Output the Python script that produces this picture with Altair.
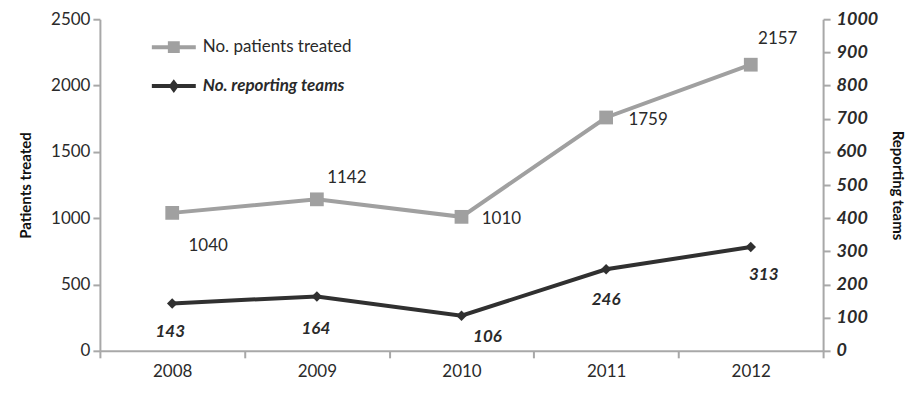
import altair as alt
import pandas as pd

# ---- data ----
years = ["2008", "2009", "2010", "2011", "2012"]
patients = [1040, 1142, 1010, 1759, 2157]
teams = [143, 164, 106, 246, 313]
series_patients = "No. patients treated"
series_teams = "No. reporting teams"
left_ticks = [0, 500, 1000, 1500, 2000, 2500]
right_ticks = [0, 100, 200, 300, 400, 500, 600, 700, 800, 900, 1000]

# ---- label offsets (styling) ----
pat_dx = [36, 30, 40, 42, 27]
pat_dy = [33, -21, 2, 3, -26]
team_dx = [-2, -1, 26, 0, 13]
team_dy = [29, 33, 21, 31, 28]

df = pd.DataFrame({"year": years, "patients": patients, "teams": teams})
df["s1"] = series_patients
df["s2"] = series_teams

FONT = "Lato"
GRAY = "#a0a0a0"
DARK = "#303030"
AXIS = "#a8a8a8"
TXT = "#2a2a2a"

xscale = alt.Scale(type="band", paddingInner=0, paddingOuter=0)
x_enc = alt.X("year:N", bandPosition=0.5, scale=xscale, sort=years,
              axis=alt.Axis(title=None, labelAngle=0, tickBand="extent",
                            domainColor=AXIS, domainWidth=2, tickColor=AXIS,
                            tickWidth=2, tickSize=7, labelPadding=6,
                            labelFont=FONT, labelFontSize=17, labelColor=TXT))

yl_scale = alt.Scale(domain=[0, 2500])
yr_scale = alt.Scale(domain=[0, 1000])
yl_enc = alt.Y("patients:Q", scale=yl_scale,
               axis=alt.Axis(values=left_ticks, format="d", title="Patients treated",
                             grid=False, domainColor=AXIS, domainWidth=2,
                             tickColor=AXIS, tickWidth=2, tickSize=7, labelPadding=3,
                             labelFont=FONT, labelFontSize=17, labelColor=TXT,
                             titleFont=FONT, titleFontSize=15, titleFontWeight="bold",
                             titleColor="#111", titlePadding=17))
yr_enc = alt.Y("teams:Q", scale=yr_scale,
               axis=alt.Axis(orient="right", values=right_ticks, format="d",
                             title="Reporting teams",
                             grid=False, domainColor=AXIS, domainWidth=2,
                             tickColor=AXIS, tickWidth=2, tickSize=7, labelPadding=6,
                             labelFont=FONT, labelFontSize=18, labelColor=TXT,
                             labelFontStyle="italic", labelFontWeight="bold",
                             titleFont=FONT, titleFontSize=15, titleFontWeight="bold",
                             titleColor="#111", titlePadding=12))

base = alt.Chart(df)

path_sq = "M-1,0H1M-0.18,-0.18H0.18V0.18H-0.18Z"
path_dm = "M-1,0H1M0,-0.16L0.12,0L0,0.16L-0.12,0Z"

pat_line = base.mark_line(strokeWidth=4).encode(
    x=x_enc, y=yl_enc,
    color=alt.Color("s1:N", scale=alt.Scale(range=[GRAY]),
                    legend=alt.Legend(title=None, orient="none", legendX=50, legendY=4,
                                      symbolType=path_sq, symbolSize=1936,
                                      symbolStrokeWidth=4, symbolFillColor=GRAY,
                                      labelFont=FONT, labelFontSize=17, labelColor=TXT,
                                      labelOffset=5, padding=0)))
pat_pts = base.mark_point(shape="square", filled=True, size=190, opacity=1,
                          color=GRAY).encode(x=x_enc, y=yl_enc)
pat_txt = [
    base.transform_filter(alt.datum.year == y)
    .mark_text(dx=pat_dx[i], dy=pat_dy[i], font=FONT, fontSize=17, color=TXT)
    .encode(x=x_enc, y=yl_enc, text=alt.Text("patients:Q", format="d"))
    for i, y in enumerate(years)
]
pat_layer = alt.layer(pat_line, pat_pts, *pat_txt)

team_line = base.mark_line(strokeWidth=4).encode(
    x=x_enc, y=yr_enc,
    color=alt.Color("s2:N", scale=alt.Scale(range=[DARK]),
                    legend=alt.Legend(title=None, orient="none", legendX=50, legendY=43,
                                      symbolType=path_dm, symbolSize=1936,
                                      symbolStrokeWidth=4, symbolFillColor=DARK,
                                      labelFont=FONT, labelFontSize=17, labelColor=TXT,
                                      labelFontStyle="italic", labelFontWeight="bold",
                                      labelOffset=5, padding=0)))
team_pts = base.mark_point(shape="diamond", filled=True, size=110, opacity=1,
                           color=DARK).encode(x=x_enc, y=yr_enc)
team_txt = [
    base.transform_filter(alt.datum.year == y)
    .mark_text(dx=team_dx[i], dy=team_dy[i], font=FONT, fontSize=17, color=TXT,
               fontStyle="italic", fontWeight="bold")
    .encode(x=x_enc, y=yr_enc, text=alt.Text("teams:Q", format="d"))
    for i, y in enumerate(years)
]
team_layer = alt.layer(team_line, team_pts, *team_txt)

chart = alt.layer(pat_layer, team_layer).resolve_scale(
    y="independent", color="independent"
).properties(
    width=724, height=332,
    padding={"left": 10, "top": 2, "right": 5, "bottom": 5},
    background="white",
).configure_view(stroke=None)

chart.save("out.html", embed_options={"renderer": "svg", "actions": False})
